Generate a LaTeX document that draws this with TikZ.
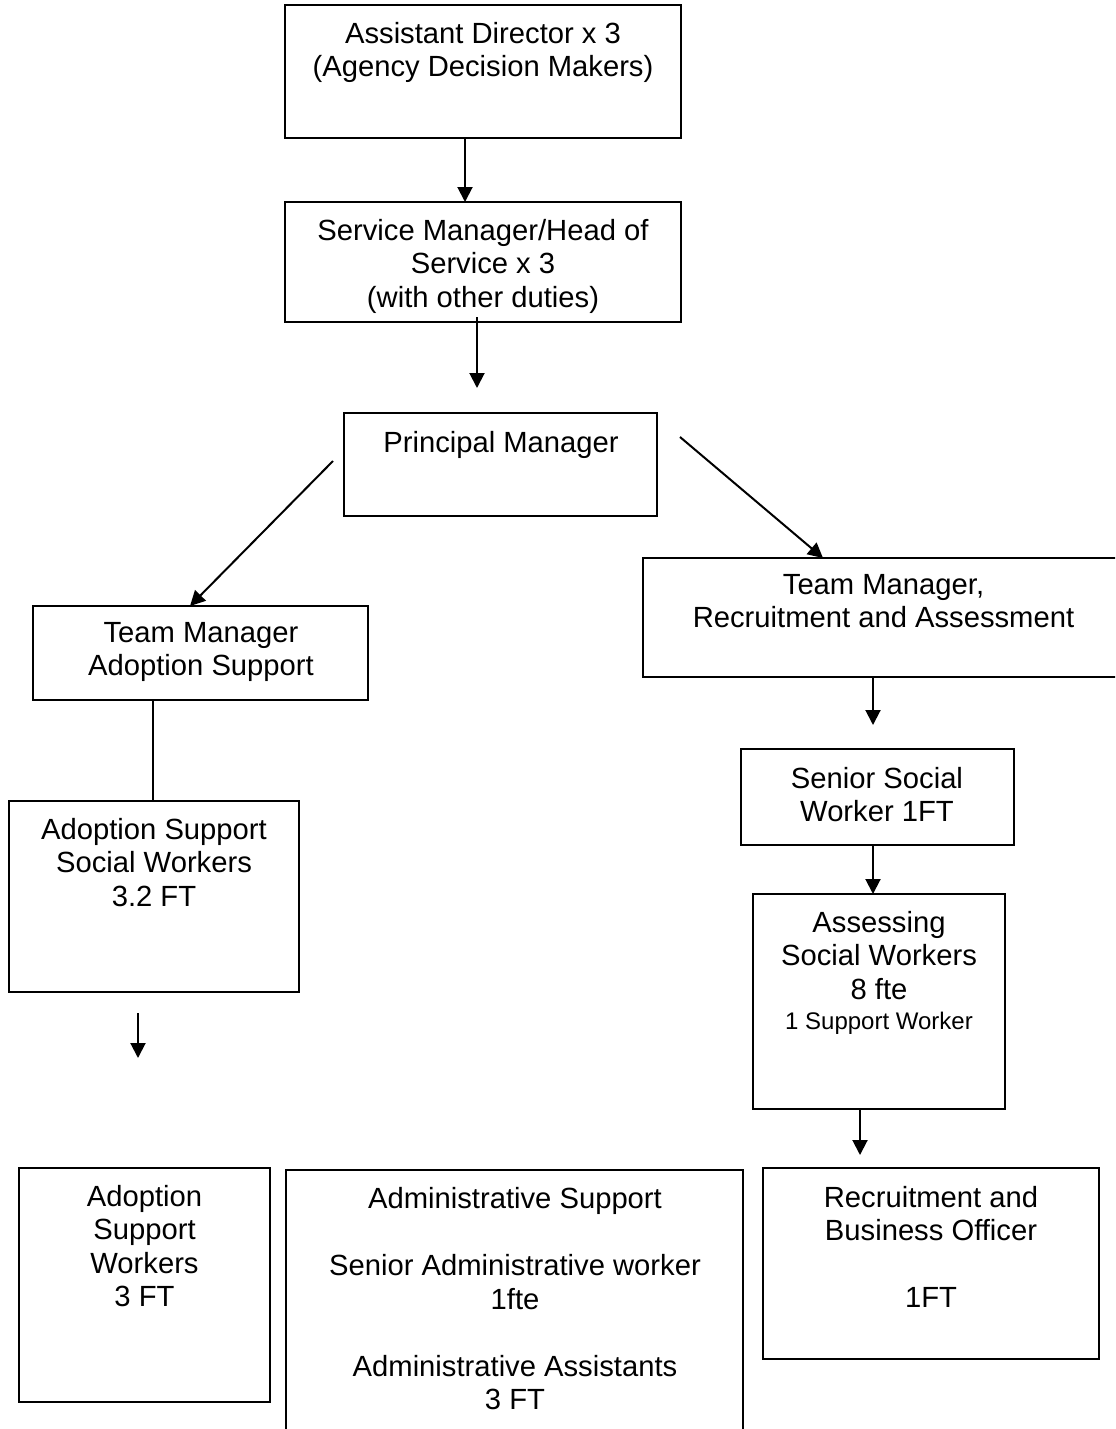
\documentclass[tikz,border=0pt]{standalone}
\usepackage{fontspec}
\setmainfont{Liberation Sans}
\usetikzlibrary{fit,calc,arrows.meta}
\newcommand\mainsz{\fontsize{14.6pt}{16.75pt}\selectfont}
\newcommand\smallsz{\fontsize{12pt}{15pt}\selectfont}
\tikzset{
  box/.style={draw, line width=1pt, inner sep=0pt, outer sep=0pt},
  txt/.style={align=center, anchor=north, inner sep=0pt, outer sep=0pt, font=\mainsz},
  arr/.style={line width=1pt, -{Triangle[length=7.5pt,width=7.5pt]}},
  conn/.style={line width=1pt}
}
\begin{document}
\begin{tikzpicture}[x=0.5pt,y=-0.5pt]
\useasboundingbox (0,0) rectangle (1115,1429);
\clip (0,0) rectangle (1115,1429);
% boxes
\node[box, fit={(285,5) (681,138)}] (ad) {};
\node[box, fit={(285,202) (681,322)}] (sm) {};
\node[box, fit={(344,413) (657,516)}] (pm) {};
\node[box, fit={(33,606) (368,700)}] (tmas) {};
\node[box, fit={(643,558) (1124,677)}] (tmra) {};
\node[box, fit={(741,749) (1014,845)}] (ssw) {};
\node[box, fit={(9,801) (299,992)}] (assw) {};
\node[box, fit={(753,894) (1005,1109)}] (asw) {};
\node[box, fit={(19,1168) (270,1402)}] (asupw) {};
\node[box, fit={(286,1170) (743,1445)}] (adm) {};
\node[box, fit={(763,1168) (1099,1359)}] (rbo) {};
% texts
\node[txt] (ad-t) at (483,22) {Assistant Director x 3\\(Agency Decision Makers)};
\node[txt] (sm-t) at (483,219) {Service Manager/Head of\\Service x 3\\(with other duties)};
\node[txt] (pm-t) at (501,431) {Principal Manager};
\node[txt] (tmas-t) at (201,622) {Team Manager\\Adoption Support};
\node[txt] (tmra-t) at (883.5,574) {Team Manager,\\Recruitment and Assessment};
\node[txt] (ssw-t) at (877,767) {Senior Social\\Worker 1FT};
\node[txt] (assw-t) at (154,818) {Adoption Support\\Social Workers\\3.2 FT};
\node[txt] (asw-t) at (879,911) {Assessing\\Social Workers\\8 fte\\[-1.75pt]{\smallsz 1 Support Worker}};
\node[txt] (asupw-t) at (144.5,1185) {Adoption\\Support\\Workers\\3 FT};
\node[txt] (adm-t) at (515,1187.5) {Administrative Support\\[16.75pt]Senior Administrative worker\\1fte\\[16.75pt]Administrative Assistants\\3 FT};
\node[txt] (rbo-t) at (931,1186) {Recruitment and\\Business Officer\\[16.75pt]1FT};
% free ends
\coordinate (pmL) at (333,461);
\coordinate (pmR) at (680,437);
\coordinate (tmraEnd) at (873,725);
\coordinate (aswEnd) at (860,1155);
\coordinate (fa1) at (138,1013);
\coordinate (fa2) at (138,1058);
% connectors
\draw[arr] (ad.south -| 465,0) -- (sm.north -| 465,0);
\draw[arr] ($(sm.south -| 477,0)+(0,-5)$) -- (477,388);
\draw[arr] (pmL) -- (tmas.north -| 190,0);
\draw[arr] (pmR) -- (tmra.north -| 823,0);
\draw[arr] (tmra.south -| 873,0) -- (tmraEnd);
\draw[arr] (ssw.south -| 873,0) -- (asw.north -| 873,0);
\draw[arr] (asw.south -| 860,0) -- (aswEnd);
\draw[conn] (tmas.south -| 153,0) -- (assw.north -| 153,0);
\draw[arr] (fa1) -- (fa2);
\end{tikzpicture}
\end{document}
